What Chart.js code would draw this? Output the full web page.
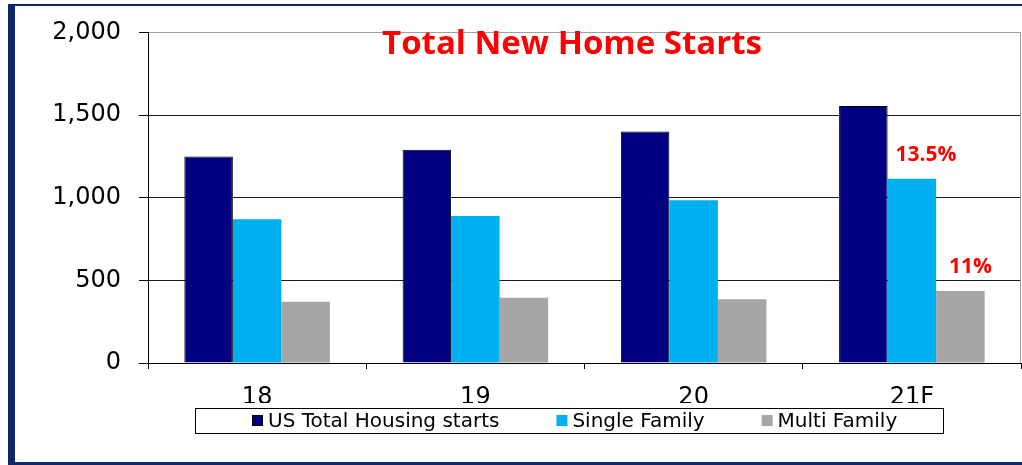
<!DOCTYPE html>
<html>
<head>
<meta charset="utf-8">
<script src="https://cdn.jsdelivr.net/npm/chart.js@4/dist/chart.umd.min.js"></script>
<style>
  html, body { margin: 0; padding: 0; background: #fff; }
  #wrap { width: 1022px; height: 465px; }
</style>
</head>
<body>
<div id="wrap"><canvas id="chart" width="1022" height="465"></canvas></div>
<script>
// chart values
const years = ['18', '19', '20', '21F'];
const totalStarts = [1250, 1290, 1400, 1555];
const singleFamily = [870, 890, 985, 1115];
const multiFamily = [370, 395, 385, 435];
const singleGrowth = ['', '', '', '13.5%'];
const multiGrowth = ['', '', '', '11%'];
const yTicks = [0, 500, 1000, 1500, 2000];

const TITLE = 'Total New Home Starts';
const AXIS_FONT = 'DejaVu Sans';

// frame, white background, plot border on the right
const framePlugin = {
  id: 'frame',
  beforeDraw(chart) {
    const ctx = chart.ctx;
    ctx.save();
    ctx.fillStyle = '#fff';
    ctx.fillRect(0, 0, chart.width, chart.height);
    ctx.fillStyle = '#0c2a6a';
    ctx.fillRect(8, 4, 7, 461);
    ctx.fillRect(8, 4, 1014, 2);
    ctx.fillRect(8, 462, 1014, 3);
    ctx.restore();
  },
  afterDraw(chart) {
    const ctx = chart.ctx, a = chart.chartArea;
    ctx.save();
    ctx.strokeStyle = '#a0a0a0';
    ctx.lineWidth = 1;
    ctx.beginPath();
    ctx.moveTo(Math.round(a.right) - 0.5, a.top);
    ctx.lineTo(Math.round(a.right) - 0.5, a.bottom);
    ctx.stroke();
    ctx.restore();
  }
};

// title drawn inside the plot and the red growth labels over the 21F bars
const labelsPlugin = {
  id: 'labels',
  afterDatasetsDraw(chart) {
    const ctx = chart.ctx;
    ctx.save();
    ctx.fillStyle = '#ff0000';
    ctx.textAlign = 'center';
    ctx.textBaseline = 'alphabetic';
    ctx.font = 'bold 33px "Open Sans"';
    ctx.fillText(TITLE, 572, 54);

    ctx.font = 'bold 21px "Open Sans"';
    const growth = [[1, singleGrowth, 14], [2, multiGrowth, 10]];
    growth.forEach(([dsIdx, texts, dx]) => {
      const meta = chart.getDatasetMeta(dsIdx);
      texts.forEach((t, i) => {
        if (!t) return;
        const bar = meta.data[i];
        ctx.fillText(t, bar.x + dx, bar.y - 18);
      });
    });
    ctx.restore();
  }
};

// boxed legend under the axis
const legendPlugin = {
  id: 'boxLegend',
  afterDraw(chart) {
    const ctx = chart.ctx;
    ctx.save();
    ctx.strokeStyle = '#000';
    ctx.lineWidth = 1;
    ctx.strokeRect(195.5, 408.5, 748, 25);
    ctx.font = '20px "' + AXIS_FONT + '"';
    ctx.textBaseline = 'alphabetic';
    ctx.textAlign = 'left';
    let x = 252;
    chart.data.datasets.forEach(ds => {
      ctx.fillStyle = ds.backgroundColor;
      ctx.fillRect(x, 415, 11, 11);
      if (ds.borderWidth) {
        ctx.strokeStyle = '#000';
        ctx.strokeRect(x + 0.5, 415.5, 10, 10);
      }
      ctx.fillStyle = '#000';
      ctx.fillText(ds.label, x + 16, 427);
      x += 16 + ctx.measureText(ds.label).width + 57;
    });
    ctx.restore();
  }
};

new Chart(document.getElementById('chart').getContext('2d'), {
  type: 'bar',
  data: {
    labels: years,
    datasets: [
      { label: 'US Total Housing starts', data: totalStarts, backgroundColor: '#000080', borderColor: '#000', borderWidth: 1 },
      { label: 'Single Family', data: singleFamily, backgroundColor: '#00b0f0', borderWidth: 0 },
      { label: 'Multi Family', data: multiFamily, backgroundColor: '#a6a6a6', borderWidth: 0 }
    ]
  },
  options: {
    responsive: false,
    animation: false,
    devicePixelRatio: 1,
    layout: { padding: { left: 48, top: 32, right: 1, bottom: 62 } },
    datasets: { bar: { categoryPercentage: 0.667, barPercentage: 1.0 } },
    plugins: {
      legend: { display: false },
      title: { display: false },
      tooltip: { enabled: false }
    },
    scales: {
      x: {
        grid: { drawOnChartArea: false, drawTicks: true, tickLength: 6, color: '#000', offset: true },
        border: { color: '#000', width: 1 },
        ticks: { font: { family: AXIS_FONT, size: 24 }, color: '#000', padding: 14 },
        afterFit: s => { s.height = 40; }
      },
      y: {
        min: 0,
        max: 2000,
        afterBuildTicks: s => { s.ticks = yTicks.map(v => ({ value: v })); },
        ticks: {
          font: { family: AXIS_FONT, size: 24 },
          color: '#000',
          padding: 18,
          callback: v => v.toLocaleString('en-US')
        },
        grid: {
          color: c => (c.tick && c.tick.value === 2000) ? '#a0a0a0' : '#1a1a1a',
          tickColor: '#000',
          tickLength: 9
        },
        border: { color: '#000', width: 1 },
        afterFit: s => { s.width = 100; }
      }
    }
  },
  plugins: [framePlugin, labelsPlugin, legendPlugin]
});
</script>
</body>
</html>
